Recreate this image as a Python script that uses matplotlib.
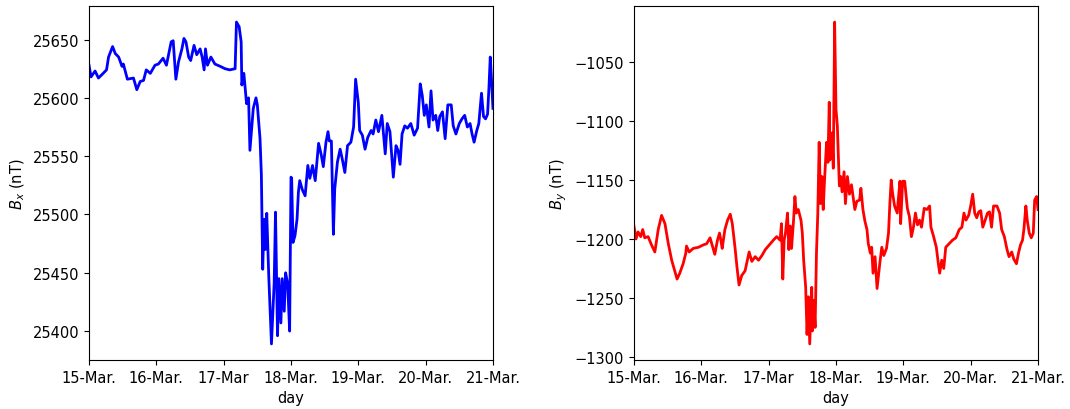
import numpy as np
import matplotlib
matplotlib.use("Agg")
import matplotlib.pyplot as plt

# time in days since 15 March 00:00
bx_day = [0.00, 0.03, 0.09, 0.14, 0.21, 0.26, 0.29, 0.35, 0.39, 0.44, 0.49, 0.51, 0.57, 0.66,
          0.71, 0.76, 0.81, 0.85, 0.91, 0.98, 1.03, 1.10, 1.15, 1.22, 1.25, 1.29, 1.33, 1.38,
          1.41, 1.44, 1.48, 1.51, 1.56, 1.60, 1.65, 1.68, 1.71, 1.73, 1.76, 1.81, 1.87, 1.95,
          2.02, 2.09, 2.17, 2.19, 2.23, 2.26, 2.27, 2.30, 2.32, 2.34, 2.37, 2.39, 2.42, 2.44,
          2.48, 2.50, 2.54, 2.56, 2.58, 2.60, 2.62, 2.64, 2.67, 2.71, 2.75, 2.77, 2.80, 2.82,
          2.85, 2.87, 2.90, 2.92, 2.95, 2.98, 3.00, 3.01, 3.03, 3.06, 3.09, 3.11, 3.13, 3.17,
          3.21, 3.25, 3.28, 3.32, 3.36, 3.41, 3.45, 3.48, 3.52, 3.55, 3.57, 3.60, 3.63, 3.65,
          3.69, 3.73, 3.76, 3.80, 3.84, 3.89, 3.93, 3.96, 4.00, 4.02, 4.06, 4.10, 4.14, 4.19,
          4.22, 4.26, 4.30, 4.35, 4.40, 4.43, 4.47, 4.52, 4.56, 4.59, 4.62, 4.65, 4.69, 4.73,
          4.78, 4.83, 4.88, 4.92, 4.95, 4.98, 5.01, 5.05, 5.08, 5.11, 5.15, 5.18, 5.21, 5.25,
          5.29, 5.33, 5.38, 5.41, 5.45, 5.50, 5.54, 5.58, 5.62, 5.66, 5.69, 5.72, 5.76, 5.79,
          5.83, 5.86, 5.89, 5.92, 5.94, 5.96, 5.98, 6.00]
bx = [25628, 25618, 25623, 25617, 25621, 25624, 25635, 25644, 25638, 25635, 25627, 25629, 25616,
      25617, 25607, 25614, 25615, 25624, 25621, 25628, 25629, 25634, 25628, 25648, 25649, 25616,
      25631, 25642, 25651, 25648, 25635, 25632, 25645, 25637, 25642, 25635, 25624, 25642, 25628,
      25635, 25629, 25627, 25625, 25624, 25625, 25665, 25661, 25648, 25611, 25621, 25608, 25595,
      25600, 25555, 25576, 25591, 25600, 25594, 25565, 25534, 25453, 25496, 25470, 25501, 25447,
      25389, 25441, 25502, 25396, 25445, 25407, 25445, 25417, 25450, 25441, 25400, 25532, 25531,
      25476, 25482, 25496, 25519, 25529, 25521, 25516, 25542, 25531, 25542, 25529, 25561, 25551,
      25541, 25562, 25571, 25563, 25563, 25483, 25522, 25545, 25556, 25548, 25536, 25559, 25562,
      25575, 25616, 25596, 25572, 25568, 25556, 25566, 25572, 25569, 25581, 25571, 25585, 25552,
      25578, 25571, 25532, 25559, 25555, 25543, 25569, 25576, 25574, 25578, 25568, 25574, 25612,
      25602, 25585, 25594, 25575, 25606, 25581, 25585, 25572, 25584, 25588, 25565, 25594, 25594,
      25576, 25569, 25578, 25582, 25585, 25575, 25578, 25569, 25562, 25572, 25578, 25604, 25584,
      25582, 25586, 25608, 25635, 25614, 25591]

by_day = [0.00, 0.03, 0.06, 0.10, 0.13, 0.16, 0.21, 0.26, 0.31, 0.36, 0.41, 0.46, 0.51, 0.56,
          0.61, 0.64, 0.68, 0.73, 0.77, 0.78, 0.82, 0.88, 0.96, 1.03, 1.08, 1.13, 1.17, 1.20,
          1.24, 1.27, 1.29, 1.31, 1.35, 1.39, 1.43, 1.46, 1.50, 1.53, 1.56, 1.60, 1.65, 1.68,
          1.71, 1.75, 1.80, 1.85, 1.90, 1.95, 2.01, 2.07, 2.12, 2.17, 2.19, 2.21, 2.23, 2.25,
          2.28, 2.30, 2.32, 2.34, 2.37, 2.39, 2.41, 2.44, 2.48, 2.50, 2.52, 2.55, 2.57, 2.59,
          2.61, 2.64, 2.65, 2.67, 2.69, 2.71, 2.73, 2.75, 2.77, 2.79, 2.81, 2.83, 2.86, 2.88,
          2.90, 2.91, 2.94, 2.96, 2.98, 3.00, 3.02, 3.05, 3.07, 3.09, 3.12, 3.14, 3.17, 3.20,
          3.23, 3.26, 3.28, 3.31, 3.35, 3.37, 3.40, 3.43, 3.46, 3.48, 3.51, 3.53, 3.55, 3.58,
          3.61, 3.65, 3.68, 3.71, 3.75, 3.78, 3.80, 3.82, 3.84, 3.87, 3.91, 3.92, 3.95, 3.96,
          3.99, 4.02, 4.06, 4.09, 4.12, 4.15, 4.18, 4.21, 4.24, 4.27, 4.31, 4.35, 4.39, 4.41,
          4.45, 4.49, 4.52, 4.54, 4.57, 4.60, 4.63, 4.68, 4.73, 4.78, 4.83, 4.87, 4.90, 4.93,
          4.97, 5.00, 5.03, 5.06, 5.09, 5.12, 5.15, 5.18, 5.21, 5.25, 5.28, 5.31, 5.34, 5.39,
          5.43, 5.46, 5.50, 5.54, 5.57, 5.61, 5.64, 5.68, 5.71, 5.74, 5.77, 5.79, 5.82, 5.84,
          5.87, 5.90, 5.93, 5.95, 5.98, 6.00]
by = [-1189, -1200, -1194, -1198, -1192, -1199, -1198, -1205, -1211, -1192, -1180, -1187, -1204,
      -1218, -1228, -1234, -1229, -1221, -1212, -1206, -1211, -1208, -1207, -1205, -1204, -1199,
      -1207, -1213, -1201, -1195, -1201, -1208, -1192, -1184, -1179, -1187, -1207, -1224, -1239,
      -1231, -1227, -1219, -1211, -1219, -1215, -1218, -1214, -1209, -1205, -1201, -1198, -1201,
      -1187, -1234, -1201, -1195, -1178, -1209, -1189, -1208, -1184, -1164, -1178, -1175, -1184,
      -1195, -1218, -1241, -1281, -1249, -1289, -1241, -1278, -1252, -1275, -1212, -1178, -1118,
      -1170, -1147, -1175, -1150, -1118, -1135, -1084, -1133, -1110, -1140, -1016, -1090, -1104,
      -1155, -1147, -1160, -1143, -1170, -1147, -1162, -1154, -1167, -1175, -1168, -1167, -1157,
      -1175, -1185, -1192, -1204, -1212, -1207, -1229, -1215, -1242, -1221, -1207, -1214, -1208,
      -1195, -1170, -1150, -1161, -1172, -1178, -1170, -1151, -1187, -1151, -1151, -1174, -1181,
      -1198, -1190, -1178, -1188, -1184, -1190, -1174, -1175, -1172, -1190, -1198, -1207, -1221,
      -1229, -1218, -1225, -1207, -1204, -1201, -1199, -1192, -1190, -1178, -1184, -1180, -1172,
      -1162, -1178, -1182, -1177, -1176, -1190, -1185, -1178, -1177, -1190, -1172, -1172, -1178,
      -1192, -1198, -1209, -1215, -1211, -1217, -1221, -1212, -1205, -1201, -1192, -1172, -1184,
      -1195, -1199, -1195, -1167, -1164, -1175]

tick_pos = [0, 1, 2, 3, 4, 5, 6]
tick_labels = ['15-Mar.', '16-Mar.', '17-Mar', '18-Mar.', '19-Mar.', '20-Mar.', '21-Mar.']

plt.rcParams['font.size'] = 10.5

fig = plt.figure(figsize=(10.7, 4.1), dpi=100)
ax1 = fig.add_axes([0.0832, 0.1195, 0.3775, 0.8635])
ax2 = fig.add_axes([0.5925, 0.1195, 0.3776, 0.8635])

ax1.plot(bx_day, bx, color='blue', lw=2)
ax1.set_ylabel('$B_x$ (nT)')

ax2.plot(by_day, by, color='red', lw=2)
ax2.set_ylabel('$B_y$ (nT)')

for ax in (ax1, ax2):
    ax.set_xlim(0, 6)
    ax.set_xticks(tick_pos)
    ax.set_xticklabels(tick_labels)
    ax.set_xlabel('day')

fig.savefig('out.png', dpi=100)
